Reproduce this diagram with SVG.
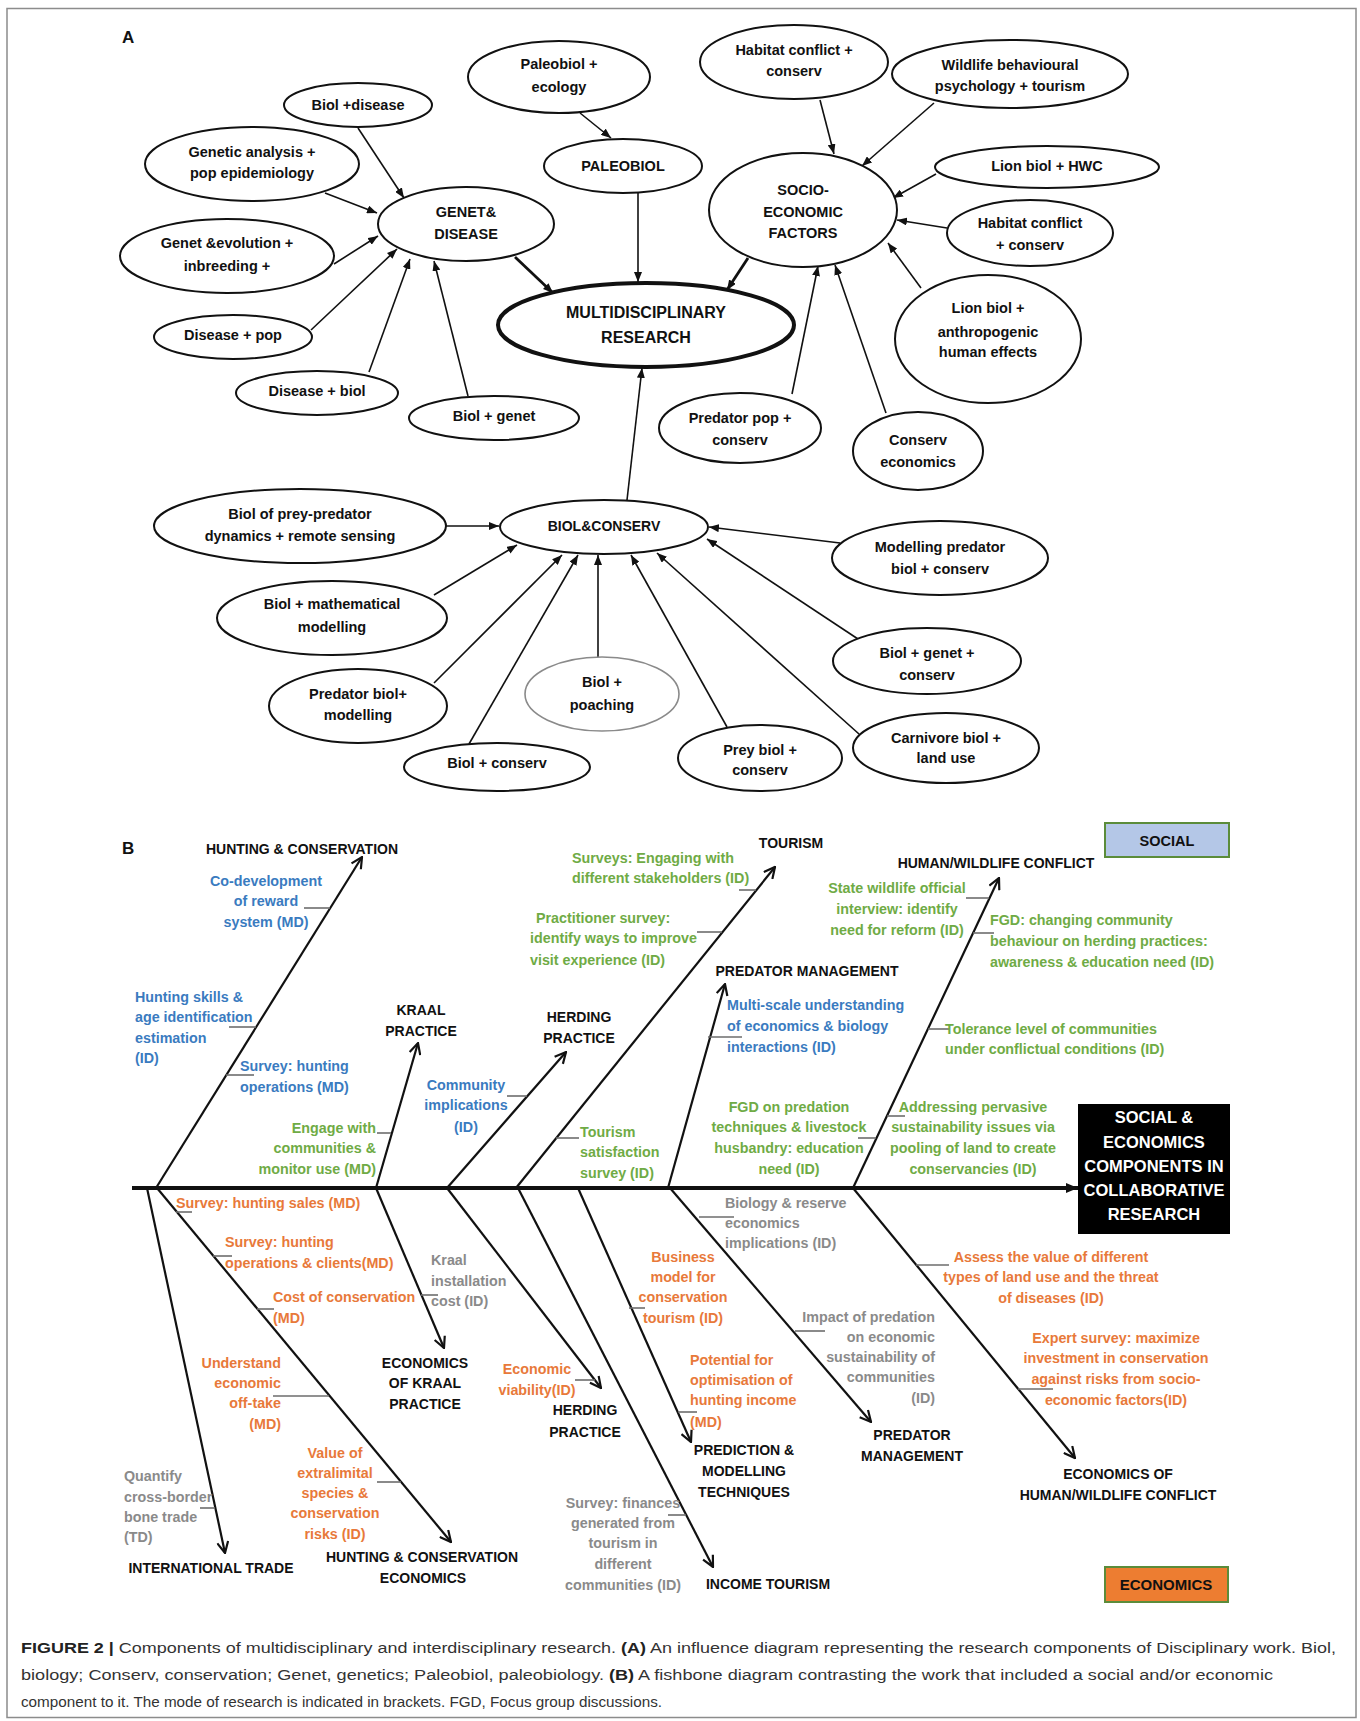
<svg xmlns="http://www.w3.org/2000/svg" width="1360" height="1721" viewBox="0 0 1360 1721">
<style>
text{font-family:"Liberation Sans",Arial,sans-serif}
.n ellipse{fill:#fff;stroke:#111;stroke-width:2}
.n text{font-weight:bold;font-size:14.5px;text-anchor:middle;fill:#111}
.ca line{stroke:#111;stroke-width:1.6;marker-end:url(#ah)}
.ca line.thick{stroke-width:2.8}
.cb line{stroke:#111;stroke-width:2.2;marker-end:url(#vh)}
.tk line{stroke:#6d6d6d;stroke-width:1.6}
.lb{font-weight:bold;font-size:14px;fill:#111;text-anchor:middle}
.q{font-weight:bold;font-size:14.3px}
.bl{fill:#3a7bbf}.gr{fill:#6fab45}.or{fill:#e8793a}.gy{fill:#8a8a8a}
.m{text-anchor:middle}.e{text-anchor:end}.s{text-anchor:start}
.cap{font-size:15.5px;fill:#333}
</style>
<defs>
<marker id="ah" viewBox="0 0 10 8" refX="10" refY="4" markerWidth="10" markerHeight="8" markerUnits="userSpaceOnUse" orient="auto"><path d="M0,0 L10,4 L0,8 z" fill="#111"/></marker>
<marker id="vh" viewBox="0 0 13 13" refX="12" refY="6.5" markerWidth="13" markerHeight="13" markerUnits="userSpaceOnUse" orient="auto"><path d="M1,1 L12,6.5 L1,12" fill="none" stroke="#111" stroke-width="2.2"/></marker>
<marker id="sh" viewBox="0 0 12 10" refX="12" refY="5" markerWidth="12" markerHeight="10" markerUnits="userSpaceOnUse" orient="auto"><path d="M0,0 L12,5 L0,10 z" fill="#111"/></marker>
</defs>
<rect width="1360" height="1721" fill="#fff"/>
<rect x="7" y="8.5" width="1349" height="1709" fill="none" stroke="#8c8c8c" stroke-width="1.5"/>

<text x="122" y="43" font-weight="bold" font-size="17" fill="#111">A</text>
<text x="122" y="854" font-weight="bold" font-size="17" fill="#111">B</text>

<!-- Panel A connectors -->
<g id="connectors-a" class="ca">
<line x1="358" y1="128" x2="404" y2="198"/>
<line x1="325" y1="193" x2="377" y2="213"/>
<line x1="334" y1="264" x2="378" y2="236"/>
<line x1="311" y1="330" x2="397" y2="249"/>
<line x1="369" y1="372" x2="410" y2="259"/>
<line x1="468" y1="396" x2="434" y2="261"/>
<line class="thick" x1="515" y1="257" x2="553" y2="293"/>
<line x1="580" y1="113" x2="611" y2="138"/>
<line x1="638" y1="193" x2="638" y2="282"/>
<line x1="820" y1="100" x2="834" y2="154"/>
<line x1="934" y1="103" x2="862" y2="166"/>
<line x1="936" y1="174" x2="893" y2="198"/>
<line x1="947" y1="228" x2="897" y2="220"/>
<line x1="921" y1="288" x2="888" y2="243"/>
<line x1="792" y1="394" x2="818" y2="266"/>
<line x1="886" y1="413" x2="835" y2="265"/>
<line class="thick" x1="748" y1="258" x2="727" y2="290"/>
<line x1="627" y1="500" x2="642" y2="368"/>
<line x1="446" y1="526" x2="499" y2="526"/>
<line x1="434" y1="595" x2="517" y2="545"/>
<line x1="434" y1="683" x2="562" y2="555"/>
<line x1="469" y1="744" x2="578" y2="555"/>
<line x1="598" y1="657" x2="598" y2="555"/>
<line x1="727" y1="727" x2="631" y2="555"/>
<line x1="859" y1="734" x2="657" y2="553"/>
<line x1="858" y1="639" x2="707" y2="539"/>
<line x1="840" y1="543" x2="709" y2="527"/>
</g>

<!-- Panel A nodes -->
<g id="n-biol-disease" class="n"><ellipse cx="358" cy="105" rx="74" ry="22"/><text x="358" y="110">Biol +disease</text></g>
<g id="n-genetic-analysis" class="n"><ellipse cx="252" cy="164" rx="107" ry="37"/><text><tspan x="252" y="157">Genetic analysis +</tspan><tspan x="252" y="178">pop epidemiology</tspan></text></g>
<g id="n-genet-disease" class="n"><ellipse cx="466" cy="224" rx="88" ry="37"/><text><tspan x="466" y="217">GENET&amp;</tspan><tspan x="466" y="239">DISEASE</tspan></text></g>
<g id="n-genet-evolution" class="n"><ellipse cx="227" cy="256" rx="107" ry="37"/><text><tspan x="227" y="248">Genet &amp;evolution +</tspan><tspan x="227" y="271">inbreeding +</tspan></text></g>
<g id="n-disease-pop" class="n"><ellipse cx="233" cy="337" rx="79" ry="22"/><text x="233" y="340">Disease + pop</text></g>
<g id="n-disease-biol" class="n"><ellipse cx="317" cy="393" rx="81" ry="22"/><text x="317" y="396">Disease + biol</text></g>
<g id="n-biol-genet" class="n"><ellipse cx="494" cy="418" rx="85" ry="22"/><text x="494" y="421">Biol + genet</text></g>
<g id="n-paleobiol-ecology" class="n"><ellipse cx="559" cy="77" rx="91" ry="36"/><text><tspan x="559" y="69">Paleobiol +</tspan><tspan x="559" y="92">ecology</tspan></text></g>
<g id="n-paleobiol" class="n"><ellipse cx="623" cy="166" rx="79" ry="27"/><text x="623" y="171">PALEOBIOL</text></g>
<g id="n-multidisciplinary" class="n"><ellipse cx="646" cy="325" rx="148" ry="42" style="stroke-width:4"/><text style="font-size:16px"><tspan x="646" y="318">MULTIDISCIPLINARY</tspan><tspan x="646" y="343">RESEARCH</tspan></text></g>
<g id="n-habitat-conflict-1" class="n"><ellipse cx="794" cy="62" rx="94" ry="37"/><text><tspan x="794" y="55">Habitat conflict +</tspan><tspan x="794" y="76">conserv</tspan></text></g>
<g id="n-wildlife" class="n"><ellipse cx="1010" cy="74" rx="118" ry="34"/><text><tspan x="1010" y="70">Wildlife behavioural</tspan><tspan x="1010" y="91">psychology  + tourism</tspan></text></g>
<g id="n-lion-hwc" class="n"><ellipse cx="1047" cy="167" rx="112" ry="21"/><text x="1047" y="171">Lion biol + HWC</text></g>
<g id="n-socio-economic" class="n"><ellipse cx="803" cy="210" rx="94" ry="57"/><text><tspan x="803" y="195">SOCIO-</tspan><tspan x="803" y="217">ECONOMIC</tspan><tspan x="803" y="238">FACTORS</tspan></text></g>
<g id="n-habitat-conflict-2" class="n"><ellipse cx="1030" cy="233" rx="83" ry="33"/><text><tspan x="1030" y="228">Habitat conflict</tspan><tspan x="1030" y="250">+ conserv</tspan></text></g>
<g id="n-lion-anthropogenic" class="n"><ellipse cx="988" cy="339" rx="93" ry="64"/><text><tspan x="988" y="313">Lion biol +</tspan><tspan x="988" y="337">anthropogenic</tspan><tspan x="988" y="357">human effects</tspan></text></g>
<g id="n-predator-pop" class="n"><ellipse cx="740" cy="428" rx="81" ry="35"/><text><tspan x="740" y="423">Predator pop +</tspan><tspan x="740" y="445">conserv</tspan></text></g>
<g id="n-conserv-economics" class="n"><ellipse cx="918" cy="451" rx="65" ry="39"/><text><tspan x="918" y="445">Conserv</tspan><tspan x="918" y="467">economics</tspan></text></g>
<g id="n-biol-prey-predator" class="n"><ellipse cx="300" cy="526" rx="146" ry="37"/><text><tspan x="300" y="519">Biol of prey-predator</tspan><tspan x="300" y="541">dynamics + remote sensing</tspan></text></g>
<g id="n-biol-conserv-hub" class="n"><ellipse cx="604" cy="527" rx="104" ry="27"/><text x="604" y="531" style="font-size:14px">BIOL&amp;CONSERV</text></g>
<g id="n-modelling-predator" class="n"><ellipse cx="940" cy="558" rx="108" ry="37"/><text><tspan x="940" y="552">Modelling predator</tspan><tspan x="940" y="574">biol + conserv</tspan></text></g>
<g id="n-biol-mathematical" class="n"><ellipse cx="332" cy="618" rx="115" ry="37"/><text><tspan x="332" y="609">Biol + mathematical</tspan><tspan x="332" y="632">modelling</tspan></text></g>
<g id="n-biol-genet-conserv" class="n"><ellipse cx="927" cy="661" rx="94" ry="33"/><text><tspan x="927" y="658">Biol + genet +</tspan><tspan x="927" y="680">conserv</tspan></text></g>
<g id="n-predator-biol" class="n"><ellipse cx="358" cy="706" rx="89" ry="37"/><text><tspan x="358" y="699">Predator biol+</tspan><tspan x="358" y="720">modelling</tspan></text></g>
<g id="n-biol-poaching" class="n"><ellipse cx="602" cy="694" rx="77" ry="37" style="stroke:#8a8a8a;stroke-width:1.6"/><text><tspan x="602" y="687">Biol +</tspan><tspan x="602" y="710">poaching</tspan></text></g>
<g id="n-carnivore" class="n"><ellipse cx="946" cy="748" rx="93" ry="35"/><text><tspan x="946" y="743">Carnivore biol +</tspan><tspan x="946" y="763">land use</tspan></text></g>
<g id="n-prey-biol" class="n"><ellipse cx="760" cy="758" rx="82" ry="33"/><text><tspan x="760" y="755">Prey biol +</tspan><tspan x="760" y="775">conserv</tspan></text></g>
<g id="n-biol-conserv" class="n"><ellipse cx="497" cy="767" rx="93" ry="24"/><text x="497" y="768">Biol + conserv</text></g>

<!-- Panel B connectors -->
<g id="connectors-b" class="cb">
<line x1="132" y1="1188" x2="1078" y2="1188" style="stroke-width:4;marker-end:url(#sh)"/>
<line x1="156" y1="1188" x2="362" y2="857"/>
<line x1="376" y1="1188" x2="418" y2="1043"/>
<line x1="447" y1="1188" x2="566" y2="1052"/>
<line x1="516" y1="1188" x2="775" y2="867"/>
<line x1="668" y1="1188" x2="725" y2="984"/>
<line x1="853" y1="1188" x2="999" y2="878"/>
<line x1="147" y1="1188" x2="225" y2="1553"/>
<line x1="157" y1="1188" x2="451" y2="1542"/>
<line x1="376" y1="1188" x2="444" y2="1348"/>
<line x1="447" y1="1188" x2="601" y2="1388"/>
<line x1="578" y1="1188" x2="691" y2="1442"/>
<line x1="518" y1="1188" x2="713" y2="1567"/>
<line x1="670" y1="1188" x2="871" y2="1422"/>
<line x1="853" y1="1188" x2="1075" y2="1458"/>
</g>
<g id="ticks" class="tk">
<line x1="304" y1="908" x2="330" y2="908"/>
<line x1="229" y1="1027" x2="256" y2="1027"/>
<line x1="226" y1="1075" x2="254" y2="1075"/>
<line x1="377" y1="1133" x2="391" y2="1133"/>
<line x1="507" y1="1096" x2="527" y2="1096"/>
<line x1="739" y1="890" x2="756" y2="890"/>
<line x1="697" y1="932" x2="722" y2="932"/>
<line x1="556" y1="1138" x2="579" y2="1138"/>
<line x1="708" y1="1037" x2="742" y2="1037"/>
<line x1="858" y1="1138" x2="876" y2="1138"/>
<line x1="966" y1="898" x2="989" y2="898"/>
<line x1="973" y1="933" x2="994" y2="933"/>
<line x1="928" y1="1029" x2="949" y2="1029"/>
<line x1="887" y1="1116" x2="905" y2="1116"/>
<line x1="176" y1="1212" x2="192" y2="1212"/>
<line x1="213" y1="1256" x2="232" y2="1256"/>
<line x1="257" y1="1309" x2="274" y2="1309"/>
<line x1="273" y1="1396" x2="329" y2="1396"/>
<line x1="377" y1="1482" x2="401" y2="1482"/>
<line x1="200" y1="1508" x2="215" y2="1508"/>
<line x1="421" y1="1295" x2="438" y2="1295"/>
<line x1="575" y1="1380" x2="595" y2="1380"/>
<line x1="629" y1="1308" x2="645" y2="1308"/>
<line x1="678" y1="1412" x2="697" y2="1412"/>
<line x1="668" y1="1515" x2="686" y2="1515"/>
<line x1="699" y1="1217" x2="734" y2="1217"/>
<line x1="795" y1="1331" x2="825" y2="1331"/>
<line x1="916" y1="1265" x2="949" y2="1265"/>
<line x1="1018" y1="1389" x2="1053" y2="1389"/>
</g>

<!-- Panel B category labels -->
<g id="b-hunting-conservation"><text class="lb" x="302" y="854">HUNTING &amp; CONSERVATION</text></g>
<g id="b-kraal-practice"><text class="lb"><tspan x="421" y="1015">KRAAL</tspan><tspan x="421" y="1036">PRACTICE</tspan></text></g>
<g id="b-herding-practice"><text class="lb"><tspan x="579" y="1022">HERDING</tspan><tspan x="579" y="1043">PRACTICE</tspan></text></g>
<g id="b-tourism"><text class="lb" x="791" y="848">TOURISM</text></g>
<g id="b-predator-management"><text class="lb" x="807" y="976">PREDATOR  MANAGEMENT</text></g>
<g id="b-human-wildlife"><text class="lb" x="996" y="868">HUMAN/WILDLIFE  CONFLICT</text></g>
<g id="b-international-trade"><text class="lb" x="211" y="1573">INTERNATIONAL  TRADE</text></g>
<g id="b-hunting-econ"><text class="lb"><tspan x="422" y="1562">HUNTING &amp; CONSERVATION</tspan><tspan x="423" y="1583">ECONOMICS</tspan></text></g>
<g id="b-econ-kraal"><text class="lb"><tspan x="425" y="1368">ECONOMICS</tspan><tspan x="425" y="1388">OF KRAAL</tspan><tspan x="425" y="1409">PRACTICE</tspan></text></g>
<g id="b-herding-econ"><text class="lb"><tspan x="585" y="1415">HERDING</tspan><tspan x="585" y="1437">PRACTICE</tspan></text></g>
<g id="b-prediction"><text class="lb"><tspan x="744" y="1455">PREDICTION  &amp;</tspan><tspan x="744" y="1476">MODELLING</tspan><tspan x="744" y="1497">TECHNIQUES</tspan></text></g>
<g id="b-income-tourism"><text class="lb" x="768" y="1589">INCOME TOURISM</text></g>
<g id="b-predator-econ"><text class="lb"><tspan x="912" y="1440">PREDATOR</tspan><tspan x="912" y="1461">MANAGEMENT</tspan></text></g>
<g id="b-econ-hwc"><text class="lb"><tspan x="1118" y="1479">ECONOMICS OF</tspan><tspan x="1118" y="1500">HUMAN/WILDLIFE  CONFLICT</tspan></text></g>

<!-- Panel B boxes -->
<g id="b-social-box"><rect x="1105" y="823" width="124" height="34" fill="#b4c7e7" stroke="#5b8c3a" stroke-width="2"/><text class="lb" x="1167" y="846" style="font-size:14.5px">SOCIAL</text></g>
<g id="b-economics-box"><rect x="1105" y="1567" width="123" height="35" fill="#ed7d31" stroke="#5b8c3a" stroke-width="2"/><text class="lb" x="1166" y="1590" style="font-size:15px">ECONOMICS</text></g>
<g id="b-head"><rect x="1078" y="1104" width="152" height="130" fill="#000"/><text class="lb" style="fill:#fff;font-size:16.5px"><tspan x="1154" y="1123">SOCIAL  &amp;</tspan><tspan x="1154" y="1148">ECONOMICS</tspan><tspan x="1154" y="1172">COMPONENTS IN</tspan><tspan x="1154" y="1196">COLLABORATIVE</tspan><tspan x="1154" y="1220">RESEARCH</tspan></text></g>

<!-- Panel B item labels -->
<g id="items">
<text class="q bl m"><tspan x="266" y="886">Co-development</tspan><tspan x="266" y="906">of reward</tspan><tspan x="266" y="927">system (MD)</tspan></text>
<text class="q bl s"><tspan x="135" y="1002">Hunting skills &amp;</tspan><tspan x="135" y="1022">age identification</tspan><tspan x="135" y="1043">estimation</tspan><tspan x="135" y="1063">(ID)</tspan></text>
<text class="q bl s"><tspan x="240" y="1071">Survey: hunting</tspan><tspan x="240" y="1092">operations (MD)</tspan></text>
<text class="q bl m"><tspan x="466" y="1090">Community</tspan><tspan x="466" y="1110">implications</tspan><tspan x="466" y="1132">(ID)</tspan></text>
<text class="q bl s"><tspan x="727" y="1010">Multi-scale understanding</tspan><tspan x="727" y="1031">of economics &amp; biology</tspan><tspan x="727" y="1052">interactions (ID)</tspan></text>
<text class="q gr e"><tspan x="376" y="1133">Engage with</tspan><tspan x="376" y="1153">communities &amp;</tspan><tspan x="376" y="1174">monitor use (MD)</tspan></text>
<text class="q gr s"><tspan x="572" y="863">Surveys: Engaging  with</tspan><tspan x="572" y="883">different stakeholders (ID)</tspan></text>
<text class="q gr s"><tspan x="536" y="923">Practitioner survey:</tspan><tspan x="530" y="943">identify ways to improve</tspan><tspan x="530" y="965">visit  experience (ID)</tspan></text>
<text class="q gr s"><tspan x="580" y="1137">Tourism</tspan><tspan x="580" y="1157">satisfaction</tspan><tspan x="580" y="1178">survey (ID)</tspan></text>
<text class="q gr m"><tspan x="789" y="1112">FGD on predation</tspan><tspan x="789" y="1132">techniques &amp; livestock</tspan><tspan x="789" y="1153">husbandry: education</tspan><tspan x="789" y="1174">need (ID)</tspan></text>
<text class="q gr m"><tspan x="897" y="893">State wildlife official</tspan><tspan x="897" y="914">interview: identify</tspan><tspan x="897" y="935">need for reform (ID)</tspan></text>
<text class="q gr s"><tspan x="990" y="925">FGD: changing community</tspan><tspan x="990" y="946">behaviour on herding practices:</tspan><tspan x="990" y="967">awareness &amp; education need (ID)</tspan></text>
<text class="q gr s"><tspan x="945" y="1034">Tolerance level of communities</tspan><tspan x="945" y="1054">under conflictual  conditions  (ID)</tspan></text>
<text class="q gr m"><tspan x="973" y="1112">Addressing pervasive</tspan><tspan x="973" y="1132">sustainability  issues via</tspan><tspan x="973" y="1153">pooling of land to create</tspan><tspan x="973" y="1174">conservancies  (ID)</tspan></text>
<text class="q or s" x="176" y="1208">Survey: hunting sales (MD)</text>
<text class="q or s"><tspan x="225" y="1247">Survey: hunting</tspan><tspan x="225" y="1268">operations &amp; clients(MD)</tspan></text>
<text class="q or s"><tspan x="273" y="1302">Cost of conservation</tspan><tspan x="273" y="1323">(MD)</tspan></text>
<text class="q or e"><tspan x="281" y="1368">Understand</tspan><tspan x="281" y="1388">economic</tspan><tspan x="281" y="1408">off-take</tspan><tspan x="281" y="1429">(MD)</tspan></text>
<text class="q or m"><tspan x="335" y="1458">Value of</tspan><tspan x="335" y="1478">extralimital</tspan><tspan x="335" y="1498">species &amp;</tspan><tspan x="335" y="1518">conservation</tspan><tspan x="335" y="1539">risks (ID)</tspan></text>
<text class="q or m"><tspan x="537" y="1374">Economic</tspan><tspan x="537" y="1395">viability(ID)</tspan></text>
<text class="q or m"><tspan x="683" y="1262">Business</tspan><tspan x="683" y="1282">model  for</tspan><tspan x="683" y="1302">conservation</tspan><tspan x="683" y="1323">tourism (ID)</tspan></text>
<text class="q or s"><tspan x="690" y="1365">Potential for</tspan><tspan x="690" y="1385">optimisation   of</tspan><tspan x="690" y="1405">hunting income</tspan><tspan x="690" y="1427">(MD)</tspan></text>
<text class="q or m"><tspan x="1051" y="1262">Assess the value of different</tspan><tspan x="1051" y="1282">types of land  use and the threat</tspan><tspan x="1051" y="1303">of diseases (ID)</tspan></text>
<text class="q or m"><tspan x="1116" y="1343">Expert survey: maximize</tspan><tspan x="1116" y="1363">investment in conservation</tspan><tspan x="1116" y="1384">against  risks from socio-</tspan><tspan x="1116" y="1405">economic  factors(ID)</tspan></text>
<text class="q gy s"><tspan x="124" y="1481">Quantify</tspan><tspan x="124" y="1502">cross-border</tspan><tspan x="124" y="1522">bone trade</tspan><tspan x="124" y="1542">(TD)</tspan></text>
<text class="q gy s"><tspan x="431" y="1265">Kraal</tspan><tspan x="431" y="1286">installation</tspan><tspan x="431" y="1306">cost (ID)</tspan></text>
<text class="q gy m"><tspan x="623" y="1508">Survey: finances</tspan><tspan x="623" y="1528">generated from</tspan><tspan x="623" y="1548">tourism in</tspan><tspan x="623" y="1569">different</tspan><tspan x="623" y="1590">communities (ID)</tspan></text>
<text class="q gy s"><tspan x="725" y="1208">Biology &amp; reserve</tspan><tspan x="725" y="1228">economics</tspan><tspan x="725" y="1248">implications  (ID)</tspan></text>
<text class="q gy e"><tspan x="935" y="1322">Impact of predation</tspan><tspan x="935" y="1342">on economic</tspan><tspan x="935" y="1362">sustainability  of</tspan><tspan x="935" y="1382">communities</tspan><tspan x="935" y="1403">(ID)</tspan></text>
</g>

<!-- Caption -->
<g id="caption" class="cap">
<text x="21" y="1653" textLength="1315" lengthAdjust="spacingAndGlyphs"><tspan font-weight="bold" fill="#222">FIGURE 2 |</tspan> Components of multidisciplinary and interdisciplinary research. <tspan font-weight="bold" fill="#222">(A)</tspan> An influence diagram representing the research components of Disciplinary work. Biol,</text>
<text x="21" y="1680" textLength="1252" lengthAdjust="spacingAndGlyphs">biology; Conserv, conservation; Genet, genetics; Paleobiol, paleobiology. <tspan font-weight="bold" fill="#222">(B)</tspan> A fishbone diagram contrasting the work that included a social and/or economic</text>
<text x="21" y="1707" textLength="641" lengthAdjust="spacingAndGlyphs">component to it. The mode of research is indicated in brackets. FGD, Focus group discussions.</text>
</g>
</svg>
